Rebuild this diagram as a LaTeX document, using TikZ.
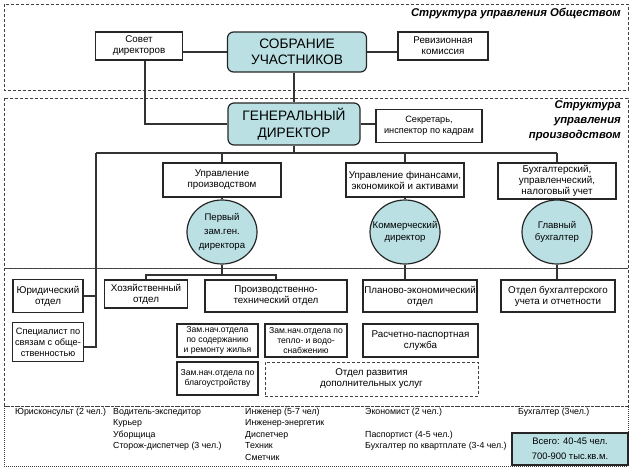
\documentclass[tikz,border=0pt]{standalone}
\usepackage{fontspec}
\setmainfont{Liberation Sans}
\usetikzlibrary{positioning,shapes.geometric}
\definecolor{hubfill}{RGB}{186,224,227}
\tikzset{>=latex}
\tikzset{frame/.style={draw=black!75, dash pattern=on 3pt off 2pt, line width=0.9pt}}
\tikzset{unit/.style={draw=black!85, line width=1.2pt, fill=white, align=center, inner sep=1pt, font=\fontsize{9.8}{11}\selectfont}}
\tikzset{small/.style={font=\fontsize{8.6}{10.3}\selectfont}}
\tikzset{chief/.style={unit, rounded corners=6pt, fill=hubfill, font=\fontsize{13.7}{16.5}\selectfont}}
\tikzset{head/.style={ellipse, draw=black!85, line width=1.2pt, fill=hubfill, inner sep=0pt, minimum width=70pt, minimum height=64pt}}
\tikzset{headtext/.style={align=center, inner sep=0pt, font=\fontsize{9.6}{12.5}\selectfont}}
\tikzset{link/.style={draw=black!80, line width=1.4pt}}
\tikzset{staff/.style={anchor=west, inner sep=0pt, text height=6.5pt, text depth=2pt, font=\fontsize{8.8}{10}\selectfont}}
\tikzset{title/.style={anchor=north east, align=right, inner sep=0pt, font=\bfseries\itshape\fontsize{11.3}{15}\selectfont}}

\begin{document}
\begin{tikzpicture}[x=1pt,y=-1pt]
      \useasboundingbox (0,0) rectangle (634,473);
      % frames
      \draw[frame] (4,4) rectangle (628,90);
      \draw[frame] (4,98) rectangle (628,406);
      \draw[draw=black!75, line width=0.8pt, dash pattern=on 1pt off 1pt] (4,406) rectangle (628,466);
      \draw[black!70, line width=0.7pt] (4,268) -- (628,268);
      \draw[frame] (4,268) -- (628,268);
      \node[title] (t1) at (621,8) {Структура управления Обществом};
      \node[title] (t2) at (621,100) {Структура\\управления\\производством};
      % owners
      \node[chief, minimum width=139pt, minimum height=40pt] (sobr) at (297,52) {СОБРАНИЕ\\УЧАСТНИКОВ};
      \node[unit, minimum width=87pt, minimum height=28pt] (sovet) at (139,46) {Совет\\директоров};
      \node[unit, minimum width=90pt, minimum height=28pt] (reviz) at (443,46) {Ревизионная\\комиссия};
      \draw[link] (sovet.east |- sobr.west) -- (sobr.west);
      \draw[link] (sobr.east) -- (reviz.west |- sobr.east);
      % general director
      \node[chief, minimum width=132pt, minimum height=42pt] (gd) at (294,124) {ГЕНЕРАЛЬНЫЙ\\ДИРЕКТОР};
      \node[unit, font=\fontsize{9.2}{11}\selectfont, minimum width=106pt, minimum height=33pt] (secr) at (429,126) {Секретарь,\\инспектор по кадрам};
      \draw[link] (sobr.south -| gd.north) -- (gd.north);
      \draw[link] ([xshift=6pt]sovet.south) |- (gd.west);
      \draw[link] (gd.east) -- (secr.west |- gd.east);
      % bus
      \coordinate (busL) at (96,153);
      \coordinate (busR) at (557,153);
      \draw[link] (gd.south) -- (gd.south |- busL);
      \draw[link] (busL) -- (busR);
      \node[unit, minimum width=118pt, minimum height=34pt] (uprod) at (222,180) {Управление\\производством};
      \node[unit, minimum width=118pt, minimum height=34pt] (ufin) at (405,180) {Управление финансами,\\экономикой и активами};
      \node[unit, minimum width=118pt, minimum height=36pt] (ubuh) at (557,181) {Бухгалтерский,\\управленческий,\\налоговый учет};
      \draw[link] (uprod.north |- busL) -- (uprod.north);
      \draw[link] (ufin.north |- busL) -- (ufin.north);
      \draw[link] (busR) -- (ubuh.north);
      \node[head] (c1) at (222,232) {};
      \node[head] (c2) at (405,232) {};
      \node[head] (c3) at (557,232) {};
      \node[headtext, font=\fontsize{9.6}{14}\selectfont] (c1t) at (c1) {Первый\\зам.ген.\\директора};
      \node[headtext] (c2t) at (c2) {Коммерческий\\директор};
      \node[headtext] (c3t) at (c3) {Главный\\бухгалтер};
      \draw[link] (uprod.south) -- (c1.north);
      \draw[link] (ufin.south) -- (c2.north);
      \draw[link] (ubuh.south) -- (c3.north);
      % departments
      \node[unit, minimum width=70pt, minimum height=33pt] (jur) at (48,296) {Юридический\\отдел};
      \node[unit, font=\fontsize{9.2}{11}\selectfont, minimum width=71pt, minimum height=39pt] (spec) at (48,342) {Специалист по\\связам с обще-\\ственностью};
      \draw[link] (busL) |- ([yshift=-5pt]spec.east);
      \draw[link] (jur.east) -- (jur.east -| busL);
      \node[unit, minimum width=83pt, minimum height=28pt] (khoz) at (146,294) {Хозяйственный\\отдел};
      \node[unit, minimum width=142pt, minimum height=32pt] (ptech) at (276,296) {Производственно-\\технический отдел};
      \coordinate (br) at (222,275);
      \draw[link] (c1.south) -- (br);
      \draw[link] (khoz.north) -- (khoz.north |- br) -| (ptech.north);
      \node[unit, minimum width=114pt, minimum height=32pt] (plan) at (420,296) {Планово-экономический\\отдел};
      \node[unit, minimum width=114pt, minimum height=32pt] (obuh) at (558,296) {Отдел бухгалтерского\\учета и отчетности};
      \draw[link] (c2.south) -- (c2.south |- plan.north);
      \draw[link] (c3.south) -- (c3.south |- obuh.north);
      \node[unit, small, minimum width=81pt, minimum height=33pt] (zam1) at (217.5,340.5) {Зам.нач.отдела\\по содержанию\\и ремонту жилья};
      \node[unit, small, minimum width=82pt, minimum height=33pt] (zam2) at (306,340.5) {Зам.нач.отдела по\\тепло- и водо-\\снабжению};
      \node[unit, small, minimum width=81pt, minimum height=33pt] (zam3) at (217.5,378.5) {Зам.нач.отдела по\\благоустройству};
      \node[unit, frame, minimum width=213pt, minimum height=34pt] (razv) at (371.5,379) {Отдел развития\\дополнительных услуг};
      \node[unit, minimum width=115pt, minimum height=33pt] (rasch) at (420.5,340.5) {Расчетно-паспортная\\служба};
      % staff
      \node[staff] (s1) at (15,412) {Юрисконсульт (2 чел.)};
      \node[staff] (s2) at (113,412) {Водитель-экспедитор};
      \node[staff] (s3) at (113,423.5) {Курьер};
      \node[staff] (s4) at (113,435) {Уборщица};
      \node[staff] (s5) at (113,446.5) {Сторож-диспетчер (3 чел.)};
      \node[staff] (s6) at (245,412) {Инженер (5-7 чел)};
      \node[staff] (s7) at (245,423.5) {Инженер-энергетик};
      \node[staff] (s8) at (245,435) {Диспетчер};
      \node[staff] (s9) at (245,446.5) {Техник};
      \node[staff] (s10) at (245,458) {Сметчик};
      \node[staff] (s11) at (365,412) {Экономист (2 чел.)};
      \node[staff] (s12) at (365,435) {Паспортист (4-5 чел.)};
      \node[staff] (s13) at (365,446.5) {Бухгалтер по квартплате (3-4 чел.)};
      \node[staff] (s14) at (518,412) {Бухгалтер (3чел.)};
      \node[unit, font=\fontsize{9.4}{15}\selectfont, minimum width=116pt, minimum height=32pt, fill=hubfill] (total) at (570,449) {Всего: 40-45 чел.\\700-900 тыс.кв.м.};
    \end{tikzpicture}
\end{document}
